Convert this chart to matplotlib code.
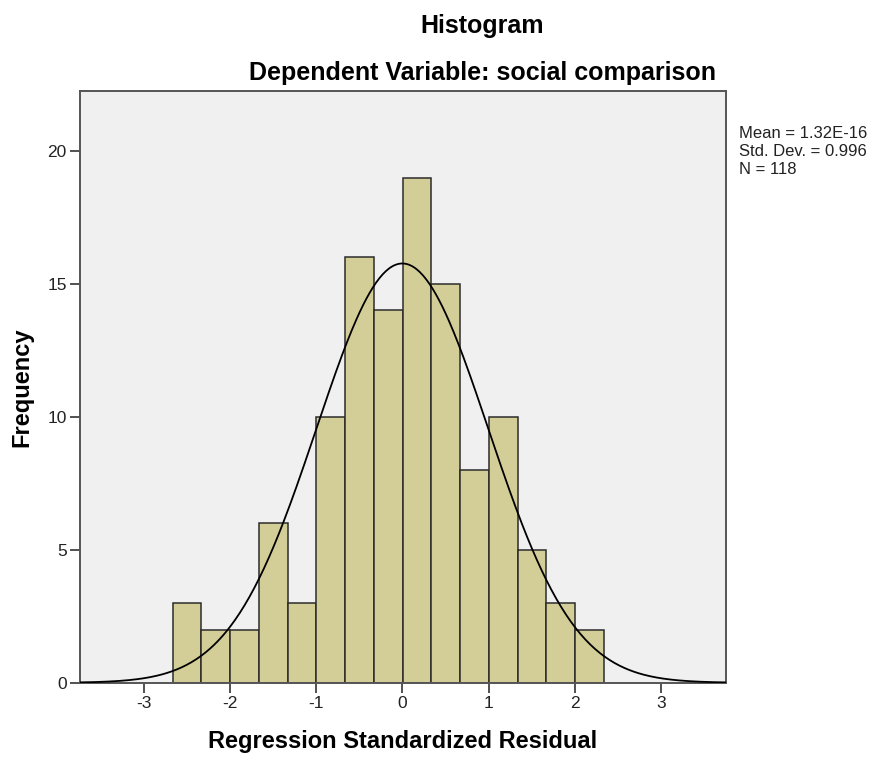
import numpy as np
import matplotlib.pyplot as plt

plt.rcParams['font.family'] = ['Liberation Sans', 'DejaVu Sans']
plt.rcParams['axes.unicode_minus'] = False

# residual histogram counts (15 equal-width bins)
counts = [3, 2, 2, 6, 3, 10, 16, 14, 19, 15, 8, 10, 5, 3, 2]
bin_start = -2.666
bin_width = 0.3336

mean = 1.32e-16
std_dev = 0.996
n_obs = 118

x_ticks = [-3, -2, -1, 0, 1, 2, 3]
y_ticks = [0, 5, 10, 15, 20]

edges = bin_start + bin_width * np.arange(len(counts) + 1)

fig = plt.figure(figsize=(8.72, 7.57), dpi=100)
ax = fig.add_axes([0.0917, 0.0981, 0.7409, 0.7819])
ax.set_facecolor('#f0f0f0')

ax.bar(edges[:-1], counts, width=bin_width, align='edge',
       color='#d3ce98', edgecolor='#2b2b2b', linewidth=1.1, zorder=2)

# fitted normal curve scaled to frequency
xs = np.linspace(-3.75, 3.76, 400)
pdf = np.exp(-0.5 * ((xs - mean) / std_dev) ** 2) / (std_dev * np.sqrt(2 * np.pi))
ax.plot(xs, pdf * n_obs * bin_width, color='black', linewidth=1.3, zorder=3)

ax.set_xlim(-3.74, 3.755)
ax.set_ylim(0, 22.26)
ax.set_xticks(x_ticks)
ax.set_yticks(y_ticks)
ax.tick_params(direction='out', length=7.5, width=1.2, color='#333333',
               labelsize=12.5, labelcolor='#222222', pad=2)

for side in ['left', 'bottom', 'right', 'top']:
    ax.spines[side].set_color('#555555')
    ax.spines[side].set_linewidth(1.4)

ax.set_xlabel('Regression Standardized Residual', fontsize=17,
              fontweight='bold', labelpad=14)
ax.set_ylabel('Frequency', fontsize=17, fontweight='bold', labelpad=10)

fig.text(0.553, 0.966, 'Histogram', ha='center', va='center',
         fontsize=18, fontweight='bold')
fig.text(0.553, 0.903, 'Dependent Variable: social comparison',
         ha='center', va='center', fontsize=18, fontweight='bold')

fig.text(0.847, 0.833,
         f'Mean = 1.32E-16\nStd. Dev. = {std_dev}\nN = {n_obs}',
         ha='left', va='top', fontsize=12, linespacing=1.22,
         color='#222222')

fig.savefig('out.png', dpi=100)
